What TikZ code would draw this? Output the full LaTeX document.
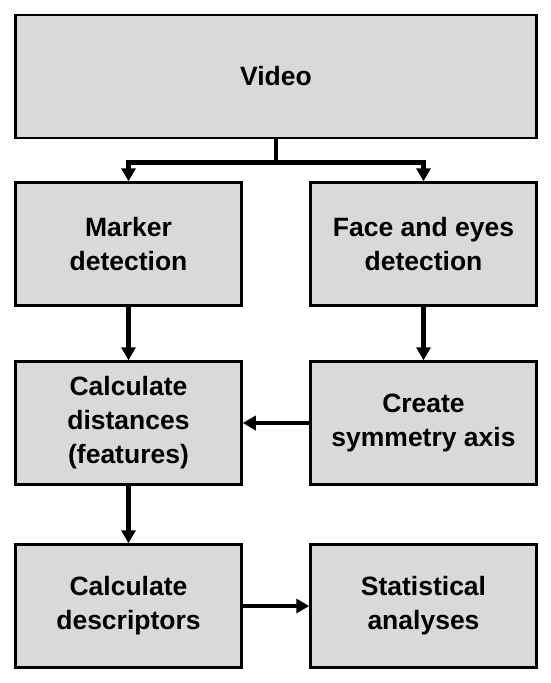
\documentclass[tikz,border=0pt]{standalone}
\usepackage{fontspec}
\setmainfont{Liberation Sans}
\usetikzlibrary{arrows.meta, positioning}
\definecolor{boxgray}{HTML}{D9D9D9}

\tikzset{
  stepbox/.style={draw=black, fill=boxgray, line width=2.5pt, align=center,
    minimum width=226pt, minimum height=123pt, inner sep=0pt,
    font=\fontsize{26.5}{34}\selectfont\bfseries},
  flow/.style={line width=4.5pt, -{Triangle[length=13pt, width=14pt]}}
}

\begin{document}
\begin{tikzpicture}[x=1pt, y=-1pt]
  \useasboundingbox (0,0) rectangle (550,683);

  % Boxes
  \node[stepbox, minimum width=521pt] (video) at (276,76.5) {Video};
  \node[stepbox] (marker) at (128.5,244) {Marker\\detection};
  \node[stepbox] (face) at (423.5,244) {Face and eyes\\detection};
  \node[stepbox] (distances) at (128.5,423) {Calculate\\distances\\(features)};
  \node[stepbox] (symmetry) at (423.5,423) {Create\\symmetry axis};
  \node[stepbox] (descriptors) at (128.5,606) {Calculate\\descriptors};
  \node[stepbox] (stats) at (423.5,606) {Statistical\\analyses};

  % Connectors
  \draw[flow] (video.south) -- ++(0,23) -| (marker);
  \draw[flow] (video.south) -- ++(0,23) -| (face);
  \draw[flow] (marker) -- (distances);
  \draw[flow] (face) -- (symmetry);
  \draw[flow] (symmetry) -- (distances);
  \draw[flow] (distances) -- (descriptors);
  \draw[flow] (descriptors) -- (stats);
\end{tikzpicture}
\end{document}
